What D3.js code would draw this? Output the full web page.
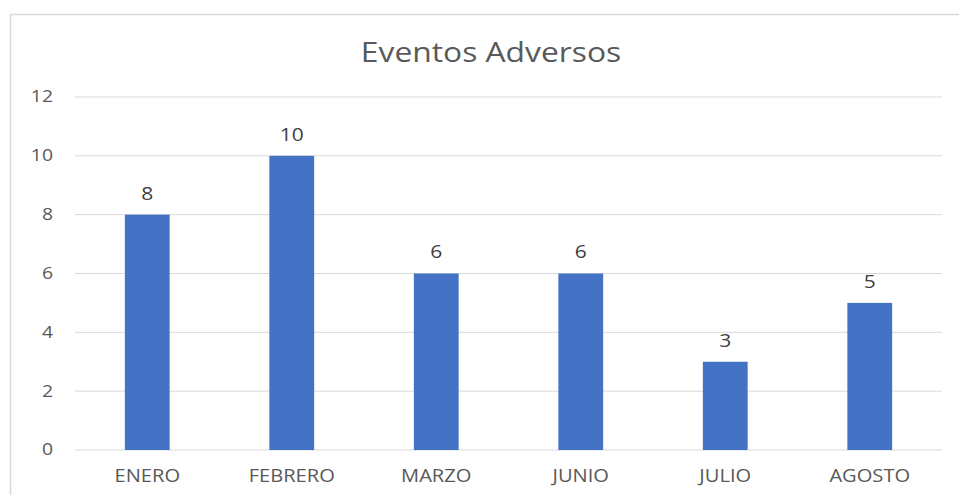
<!DOCTYPE html>
<html><head><meta charset="utf-8">
<script src="https://cdn.jsdelivr.net/npm/d3@7"></script>
<style>body{margin:0;background:#fff;} text{font-family:"Open Sans",sans-serif;}</style>
</head><body>
<svg id="c" width="959" height="495"></svg>
<script>
const categories = ["ENERO","FEBRERO","MARZO","JUNIO","JULIO","AGOSTO"];
const values = [8,10,6,6,3,5];
const yTicks = [0,2,4,6,8,10,12];
const title = "Eventos Adversos";

const SX = 1.15;
const svg = d3.select("#c");
svg.append("rect").attr("x",10.5).attr("y",14.5).attr("width",960).attr("height",500)
  .attr("fill","#fff").attr("stroke","#d9d9d9").attr("stroke-width",1.5);

const x = d3.scaleBand().domain(categories).range([75,942]).paddingInner(0.69).paddingOuter(0.345);
const y = d3.scaleLinear().domain([0,12]).range([450,97]);

svg.append("g").selectAll("line").data(yTicks).join("line")
  .attr("x1",75).attr("x2",942).attr("y1",d=>y(d)).attr("y2",d=>y(d))
  .attr("stroke","#d9d9d9").attr("stroke-width",1);

function stretch(sel, sx){
  sel.each(function(){
    const t = d3.select(this);
    const tx = +t.attr("x")||0, ty = +t.attr("y")||0;
    t.attr("transform", (t.attr("transform")||"") + ` translate(${tx},${ty}) scale(${sx},1) translate(${-tx},${-ty})`);
  });
}

const yAxis = d3.axisLeft(y).tickValues(yTicks).tickSize(0).tickPadding(0);
const ga = svg.append("g").attr("transform","translate(53,0)").call(yAxis);
ga.select(".domain").remove();
ga.selectAll("text").attr("fill","#595959").style("font-size","15.5px").style("font-family","Open Sans");
stretch(ga.selectAll("text"), 1.25);

const xAxis = d3.axisBottom(x).tickSize(0).tickPadding(0);
const gx = svg.append("g").attr("transform","translate(0,470)").call(xAxis);
gx.select(".domain").remove();
gx.selectAll("text").attr("fill","#595959").style("font-size","17.5px").style("font-family","Open Sans");
stretch(gx.selectAll("text"), SX);

svg.append("g").selectAll("rect").data(values).join("rect")
  .attr("x",(d,i)=>x(categories[i])).attr("width",x.bandwidth())
  .attr("y",d=>y(d)).attr("height",d=>y(0)-y(d)).attr("fill","#4472C4");

const lbl = svg.append("g").selectAll("text").data(values).join("text")
  .attr("x",(d,i)=>x(categories[i])+x.bandwidth()/2).attr("y",d=>y(d)-15)
  .attr("text-anchor","middle").attr("fill","#404040").style("font-size","17.5px").text(d=>d);
stretch(lbl, 1.2);

const tt = svg.append("text").attr("x",491).attr("y",62).attr("text-anchor","middle")
  .attr("fill","#595959").style("font-size","28px").text(title);
stretch(tt, 1.135);
</script>
</body></html>
